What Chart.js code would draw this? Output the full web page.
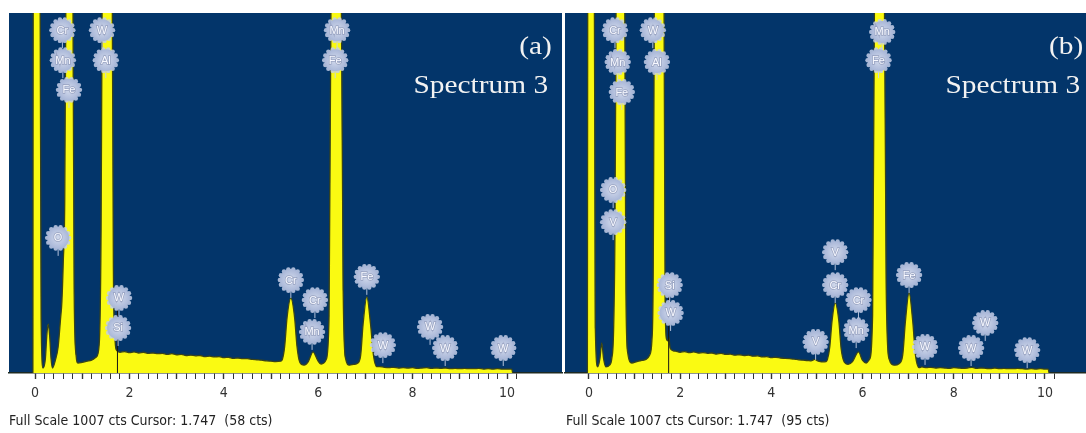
<!DOCTYPE html>
<html>
<head>
<meta charset="utf-8">
<script src="https://cdn.jsdelivr.net/npm/chart.js@4.4.1/dist/chart.umd.min.js"></script>
<style>
  html, body { margin: 0; padding: 0; background: #fff; }
  #wrap { position: relative; width: 1086px; height: 433px; overflow: hidden; }
  canvas { position: absolute; top: 0; }
  #chart-a { left: 0; }
  #chart-b { left: 563px; }
  .tag {
    position: absolute; color: #f2f2f2; white-space: nowrap;
    font-family: 'Liberation Serif', 'Times New Roman', serif;
    font-size: 26px; line-height: 26px;
    transform: scaleX(1.13); transform-origin: right center;
  }
  .foot {
    position: absolute; top: 412px; color: #222; white-space: nowrap;
    font-family: 'Liberation Sans Narrow', 'DejaVu Sans Condensed', sans-serif;
    font-size: 14px; line-height: 16px;
  }
</style>
</head>
<body>
<div id="wrap">
  <canvas id="chart-a" width="563" height="433"></canvas>
  <canvas id="chart-b" width="523" height="433"></canvas>
  <div class="tag" style="right:534px; top:33px;">(a)</div>
  <div class="tag" style="right:538px; top:72px;">Spectrum 3</div>
  <div class="tag" style="right:3px; top:33px;">(b)</div>
  <div class="tag" style="right:6px; top:72px;">Spectrum 3</div>
  <div class="foot" style="left:9px;">Full Scale 1007 cts Cursor: 1.747&nbsp; (58 cts)</div>
  <div class="foot" style="left:566px;">Full Scale 1007 cts Cursor: 1.747&nbsp; (95 cts)</div>
</div>
<script>
// spectrum (a): energy in keV, counts
const energyA = [
  -0.045, -0.035, 0.03, 0.10, 0.13, 0.17,
  0.22, 0.25, 0.28, 0.31, 0.34, 0.37,
  0.43, 0.49, 0.54, 0.57, 0.60, 0.63, 0.66, 0.73, 0.80, 0.83, 0.87, 0.91,
  1.0, 1.1, 1.2, 1.3, 1.36, 1.40, 1.43, 1.53, 1.63, 1.66, 1.69, 1.72, 1.80,
  1.9, 2.0, 2.1, 2.2, 2.3, 2.4, 2.5, 2.6, 2.7, 2.8,
  2.9, 3.0, 3.1, 3.2, 3.3, 3.4, 3.5, 3.6, 3.7, 3.8,
  3.9, 4.0, 4.1, 4.2, 4.3, 4.4, 4.5, 4.6, 4.7, 4.8,
  4.9, 5.0, 5.1, 5.2,
  5.24, 5.29, 5.34, 5.42, 5.50, 5.55, 5.61, 5.70, 5.79, 5.89, 5.99, 6.06, 6.12, 6.17,
  6.23, 6.28, 6.38, 6.48, 6.53, 6.58, 6.66, 6.75, 6.84,
  6.90, 6.95, 7.03, 7.11, 7.17, 7.24,
  7.3, 7.4, 7.5, 7.6, 7.7, 7.8, 7.9, 8.0, 8.1, 8.2,
  8.3, 8.4, 8.5, 8.6, 8.7, 8.8, 8.9, 9.0, 9.1, 9.2,
  9.3, 9.4, 9.5, 9.6, 9.7, 9.8, 9.9, 10.0, 10.1, 10.12
];
const countsA = [
  0, 1500, 6000, 1500, 150, 14,
  40, 105, 137, 105, 40, 14,
  35, 73, 150, 200, 316, 480, 1200, 3500, 1200, 220, 50, 28,
  30, 33, 36, 45, 80, 400, 1300, 4000, 1300, 300, 110, 65, 58,
  60, 57, 59, 56, 58, 55, 56, 54, 55, 52,
  54, 51, 52, 49, 50, 48, 49, 46, 47, 45,
  46, 43, 44, 41, 42, 40, 40, 38, 37, 36,
  34, 33, 32, 33,
  38, 75, 155, 210, 155, 75, 30, 22, 32, 59, 35, 25, 28, 38,
  160, 1300, 4000, 1300, 220, 40, 22, 24, 28,
  50, 135, 213, 135, 50, 18,
  18, 16, 15, 16, 14, 15, 14, 15, 13, 14,
  15, 13, 14, 13, 14, 12, 13, 12, 13, 12,
  12, 13, 11, 12, 11, 12, 11, 11, 11, 0
];

// spectrum (b)
const energyB = [
  -0.035, -0.025, 0.04, 0.11, 0.14, 0.19,
  0.24, 0.28, 0.32, 0.37,
  0.45, 0.50, 0.54, 0.57, 0.60, 0.69, 0.78, 0.81, 0.85, 0.94,
  1.05, 1.15, 1.25, 1.33, 1.38, 1.41, 1.44, 1.54, 1.64, 1.67, 1.70, 1.73, 1.75, 1.78, 1.85,
  1.9, 2.0, 2.1, 2.2, 2.3, 2.4, 2.5, 2.6, 2.7, 2.8,
  2.9, 3.0, 3.1, 3.2, 3.3, 3.4, 3.5, 3.6, 3.7, 3.8,
  3.9, 4.0, 4.1, 4.2, 4.3, 4.4, 4.5, 4.6, 4.7, 4.8,
  4.87, 4.95, 5.03, 5.1, 5.2,
  5.23, 5.28, 5.33, 5.40, 5.48, 5.53, 5.60, 5.68, 5.78, 5.91, 6.00, 6.08, 6.15,
  6.22, 6.27, 6.37, 6.47, 6.52, 6.58, 6.70, 6.80,
  6.88, 6.94, 7.02, 7.10, 7.16, 7.24,
  7.3, 7.4, 7.5, 7.6, 7.7, 7.8, 7.9, 8.0, 8.1, 8.2,
  8.3, 8.4, 8.5, 8.6, 8.7, 8.8, 8.9, 9.0, 9.1, 9.2,
  9.3, 9.4, 9.5, 9.6, 9.7, 9.8, 9.9, 10.0, 10.07, 10.09
];
const countsB = [
  0, 1500, 6000, 1500, 120, 17,
  40, 84, 40, 17,
  22, 40, 120, 400, 1200, 3500, 1200, 220, 56, 28,
  32, 35, 38, 50, 90, 300, 1300, 4000, 1300, 200, 95, 90, 100, 70, 62,
  61, 58, 60, 57, 59, 56, 57, 55, 56, 53,
  55, 52, 53, 50, 51, 49, 50, 47, 48, 45,
  46, 43, 44, 42, 41, 40, 39, 37, 36, 35,
  34, 38, 33, 31, 32,
  38, 72, 145, 196, 145, 68, 30, 24, 32, 59, 35, 28, 38,
  160, 1300, 4000, 1300, 220, 40, 22, 26,
  50, 145, 224, 145, 50, 15,
  17, 15, 16, 14, 15, 14, 13, 15, 14, 13,
  14, 16, 13, 14, 13, 12, 14, 12, 13, 12,
  12, 13, 12, 11, 12, 11, 12, 11, 11, 0
];

// element markers
const namesA = ['Cr', 'Mn', 'Fe', 'W', 'Al', 'Mn', 'Fe', 'O', 'W', 'Si', 'Cr', 'Cr', 'Mn', 'Fe', 'W', 'W', 'W', 'W'];
const markEnergyA = [0.58, 0.59, 0.72, 1.42, 1.50, 6.40, 6.36, 0.49, 1.78, 1.76, 5.42, 5.93, 5.87, 7.03, 7.37, 8.37, 8.69, 9.92];
const markCountsA = [959, 875, 792, 959, 875, 959, 875, 378, 210, 126, 260, 204, 115, 269, 78, 129, 70, 70];

const namesB = ['Cr', 'Mn', 'Fe', 'W', 'Al', 'Mn', 'Fe', 'O', 'V', 'Si', 'W', 'V', 'V', 'Cr', 'Cr', 'Mn', 'Fe', 'W', 'W', 'W', 'W'];
const markEnergyB = [0.57, 0.63, 0.72, 1.40, 1.49, 6.43, 6.35, 0.53, 0.53, 1.77, 1.79, 4.97, 5.40, 5.40, 5.91, 5.86, 7.02, 7.37, 8.38, 8.69, 9.61];
const markCountsB = [959, 870, 786, 959, 870, 954, 875, 512, 422, 246, 168, 87, 338, 246, 204, 120, 274, 73, 70, 140, 64];

const fullScale = 1007;
const cursorEnergy = 1.747;
const tickValues = [];
for (let i = 0; i <= 51; i++) tickValues.push(Math.round(i * 2) / 10);

const BLUE = '#03356a';
const YELLOW = '#fafa12';

function drawBadge(ctx, px, py, name) {
  const r = 11;
  ctx.fillStyle = 'rgba(196,206,232,0.85)';
  for (let k = 0; k < 14; k++) {
    const a = (k / 14) * Math.PI * 2;
    ctx.beginPath();
    ctx.arc(px + Math.cos(a) * r, py + Math.sin(a) * r, 2.2, 0, Math.PI * 2);
    ctx.fill();
  }
  const g = ctx.createRadialGradient(px, py, 1, px, py, r);
  g.addColorStop(0, '#cfd7ea');
  g.addColorStop(1, '#a9b7d8');
  ctx.fillStyle = g;
  ctx.beginPath();
  ctx.arc(px, py, r, 0, Math.PI * 2);
  ctx.fill();
  ctx.font = '11px "Liberation Sans", Arial, sans-serif';
  ctx.textAlign = 'center';
  ctx.textBaseline = 'middle';
  ctx.lineWidth = 1.5;
  ctx.strokeStyle = 'rgba(120,132,165,0.55)';
  ctx.strokeText(name, px, py + 0.5);
  ctx.fillStyle = '#f8f9ff';
  ctx.fillText(name, px, py + 0.5);
}

function markerPlugin(names, energies, counts) {
  return {
    id: 'markers',
    afterDatasetsDraw(chart) {
      const { ctx, scales } = chart;
      const spots = names.map((name, i) => ({
        name,
        px: scales.x.getPixelForValue(energies[i]),
        py: scales.y.getPixelForValue(counts[i])
      }));
      ctx.save();
      ctx.strokeStyle = 'rgba(200,210,232,0.9)';
      ctx.lineWidth = 1;
      spots.forEach(s => {
        ctx.beginPath();
        ctx.moveTo(s.px, s.py);
        ctx.lineTo(s.px, s.py + 18);
        ctx.stroke();
      });
      spots.forEach(s => drawBadge(ctx, s.px, s.py, s.name));
      ctx.restore();
    }
  };
}

const panelPlugin = {
  id: 'panel',
  beforeDraw(chart) {
    const { ctx, chartArea: a } = chart;
    ctx.save();
    ctx.fillStyle = BLUE;
    ctx.fillRect(a.left, a.top, a.right - a.left, a.bottom - a.top);
    ctx.restore();
  }
};

function makeChart(id, energies, counts, names, markE, markC, cursorTop, xMin, xMax, padLeft, padRight) {
  const points = energies.map((e, i) => ({ x: e, y: counts[i] }));
  return new Chart(document.getElementById(id), {
    type: 'line',
    data: {
      datasets: [
        {
          data: [{ x: cursorEnergy, y: 0 }, { x: cursorEnergy, y: cursorTop }],
          borderColor: '#151515',
          borderWidth: 1,
          pointRadius: 0,
          fill: false
        },
        {
          data: points,
          borderColor: '#3a4418',
          borderWidth: 1.3,
          backgroundColor: YELLOW,
          fill: 'origin',
          pointRadius: 0,
          cubicInterpolationMode: 'monotone',
          clip: 0
        }
      ]
    },
    options: {
      responsive: false,
      animation: false,
      layout: { padding: { top: 13, left: padLeft, right: padRight, bottom: 0 } },
      plugins: { legend: { display: false }, tooltip: { enabled: false } },
      scales: {
        x: {
          type: 'linear',
          min: xMin,
          max: xMax,
          afterBuildTicks: axis => { axis.ticks = tickValues.map(v => ({ value: v })); },
          afterFit: scale => { scale.height = 60; },
          border: { display: true, color: '#1e2a22', width: 1.5 },
          grid: {
            drawOnChartArea: false,
            tickLength: 6,
            color: '#333',
            tickWidth: ctx => (ctx.tick && Math.abs(ctx.tick.value - Math.round(ctx.tick.value)) < 1e-6 ? 1.4 : 1)
          },
          ticks: {
            autoSkip: false,
            maxRotation: 0,
            padding: 6,
            color: '#333',
            font: { family: "'Liberation Sans Narrow', 'DejaVu Sans Condensed', sans-serif", size: 14 },
            callback: v => {
              const r = Math.round(v);
              return Math.abs(v - r) < 1e-6 && r % 2 === 0 ? String(r) : '';
            }
          }
        },
        y: { display: false, min: 0, max: fullScale }
      }
    },
    plugins: [panelPlugin, markerPlugin(names, markE, markC)]
  });
}

makeChart('chart-a', energyA, countsA, namesA, markEnergyA, markCountsA, 210, -0.551, 11.165, 9, 1);
makeChart('chart-b', energyB, countsB, namesB, markEnergyB, markCountsB, 246, -0.526, 10.90, 2, 0);
</script>
</body>
</html>
